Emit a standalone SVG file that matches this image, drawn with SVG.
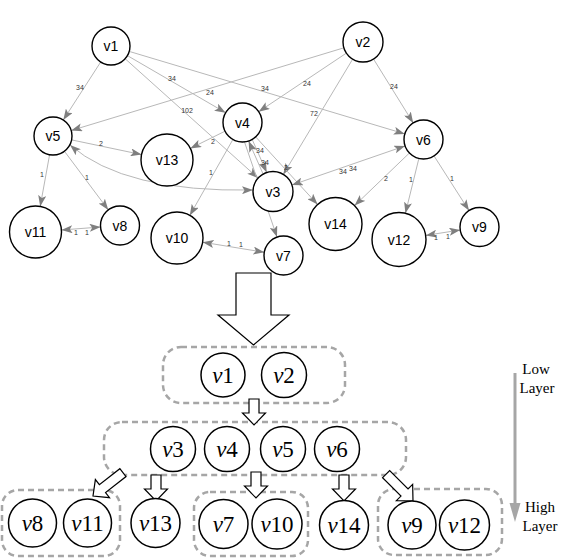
<svg xmlns="http://www.w3.org/2000/svg" width="569" height="560" viewBox="0 0 569 560">
<style>
.edge line,.edge path{stroke:#b8b8b8;stroke-width:1;fill:none}
.lbl{font-family:"Liberation Sans",Arial,sans-serif;font-size:7px;fill:#333;text-anchor:middle}
.nd circle{fill:#fff;stroke:#000;stroke-width:1.4}
.nt{font-family:"Liberation Sans",Arial,sans-serif;font-size:14px;fill:#000;text-anchor:middle}
.bn circle{fill:#fff;stroke:#000;stroke-width:1.5}
.bt{font-family:"Liberation Serif","Times New Roman",serif;font-size:23px;fill:#000;text-anchor:middle}
.grp{fill:none;stroke:#a6a6a6;stroke-width:2.5;stroke-dasharray:6 4}
.hol{fill:#fff;stroke:#000;stroke-width:1.2}
.side{font-family:"Liberation Serif","Times New Roman",serif;font-size:15px;fill:#000;text-anchor:middle}
</style>
<defs>
<marker id="ah" viewBox="0 0 11 8" refX="11" refY="4" markerWidth="11" markerHeight="8" markerUnits="userSpaceOnUse" orient="auto-start-reverse">
<path d="M0,0 L11,4 L0,8 L2.5,4 Z" fill="#7f7f7f"/>
</marker>
<polygon id="sa" points="-5,-26 5,-26 5,-12 11.5,-12 0,0 -11.5,-12 -5,-12"/>
<polygon id="da" points="-5,-38 5,-38 5,-12 11.5,-12 0,0 -11.5,-12 -5,-12"/>
</defs>
<rect width="569" height="560" fill="#fff"/>

<!-- big hollow arrow -->
<polygon class="hol" points="236,273 271,273 271,315 289,315 253.5,345 218,315 236,315"/>

<g id="edges" class="edge">
<line x1="100.7" y1="62" x2="63.3" y2="120" marker-end="url(#ah)"/>
<line x1="127.4" y1="55.6" x2="225.6" y2="112.7" marker-end="url(#ah)"/>
<line x1="125.1" y1="58.7" x2="258.1" y2="178.1" marker-end="url(#ah)"/>
<line x1="129.2" y1="51.4" x2="404.8" y2="133.9" marker-end="url(#ah)"/>
<line x1="343.9" y1="47.8" x2="71.2" y2="130.5" marker-end="url(#ah)"/>
<line x1="346.4" y1="53.1" x2="258.7" y2="111.7" marker-end="url(#ah)"/>
<line x1="352.7" y1="59.1" x2="283.3" y2="174.4" marker-end="url(#ah)"/>
<line x1="373.5" y1="59" x2="413.2" y2="122.9" marker-end="url(#ah)"/>
<line x1="225" y1="131.2" x2="190.3" y2="148.4" marker-end="url(#ah)"/>
<line x1="252.2" y1="139.5" x2="266.7" y2="172.4" marker-end="url(#ah)"/>
<line x1="263.1" y1="174" x2="248.6" y2="141.1" marker-end="url(#ah)"/>
<line x1="232.9" y1="139.5" x2="189.8" y2="215.4" marker-end="url(#ah)"/>
<line x1="244.5" y1="142" x2="277" y2="237" marker-end="url(#ah)"/>
<line x1="255.7" y1="136.9" x2="317.6" y2="204.5" marker-end="url(#ah)"/>
<line x1="71.6" y1="139.9" x2="141.6" y2="154.6" marker-end="url(#ah)"/>
<path d="M70,145 Q124.5,192.5 253,190" marker-start="url(#ah)" marker-end="url(#ah)"/>
<line x1="49.6" y1="154.7" x2="40.2" y2="206.4" marker-end="url(#ah)"/>
<line x1="64.4" y1="151.2" x2="108.3" y2="209.9" marker-end="url(#ah)"/>
<line x1="61.4" y1="230" x2="100.6" y2="227" marker-start="url(#ah)" marker-end="url(#ah)"/>
<line x1="202.7" y1="242.2" x2="264.3" y2="252.3" marker-start="url(#ah)" marker-end="url(#ah)"/>
<line x1="405.1" y1="145.9" x2="291.9" y2="185" marker-start="url(#ah)" marker-end="url(#ah)"/>
<line x1="409.4" y1="153" x2="354.6" y2="205.6" marker-end="url(#ah)"/>
<line x1="418.9" y1="158.4" x2="405.4" y2="213.3" marker-end="url(#ah)"/>
<line x1="434" y1="155.9" x2="469" y2="210.6" marker-end="url(#ah)"/>
<line x1="425.7" y1="235.4" x2="460.2" y2="230" marker-start="url(#ah)" marker-end="url(#ah)"/>
</g>

<g id="edge-labels">
<text class="lbl" x="80" y="89.5">34</text>
<text class="lbl" x="172" y="80.5">34</text>
<text class="lbl" x="187" y="112.5">102</text>
<text class="lbl" x="265" y="90.5">34</text>
<text class="lbl" x="210" y="94.5">24</text>
<text class="lbl" x="307" y="85.5">24</text>
<text class="lbl" x="314" y="115.5">72</text>
<text class="lbl" x="394" y="88.5">24</text>
<text class="lbl" x="213" y="143.5">2</text>
<text class="lbl" x="260" y="153">34</text>
<text class="lbl" x="265" y="165">34</text>
<text class="lbl" x="211" y="174.5">1</text>
<text class="lbl" x="286" y="169.5">2</text>
<text class="lbl" x="101" y="145.5">2</text>
<text class="lbl" x="42" y="176.5">1</text>
<text class="lbl" x="87" y="179.5">1</text>
<text class="lbl" x="76" y="234.5">1</text>
<text class="lbl" x="87" y="234.5">1</text>
<text class="lbl" x="229" y="245.5">1</text>
<text class="lbl" x="241" y="246.5">1</text>
<text class="lbl" x="343" y="173.5">34</text>
<text class="lbl" x="353" y="170.5">34</text>
<text class="lbl" x="386" y="180.5">2</text>
<text class="lbl" x="411" y="181.5">1</text>
<text class="lbl" x="452" y="180.5">1</text>
<text class="lbl" x="436" y="239.5">1</text>
<text class="lbl" x="448" y="238.5">1</text>
</g>

<g id="n-v1" class="nd"><circle cx="111" cy="46" r="19"/><text class="nt" x="111" y="51">v1</text></g>
<g id="n-v2" class="nd"><circle cx="363" cy="42" r="20"/><text class="nt" x="363" y="47">v2</text></g>
<g id="n-v5" class="nd"><circle cx="53" cy="136" r="19"/><text class="nt" x="53" y="141">v5</text></g>
<g id="n-v13" class="nd"><circle cx="167" cy="160" r="26"/><text class="nt" x="167" y="165">v13</text></g>
<g id="n-v4" class="nd"><circle cx="242.5" cy="122.5" r="19.5"/><text class="nt" x="242.5" y="127.5">v4</text></g>
<g id="n-v3" class="nd"><circle cx="273" cy="191.5" r="20"/><text class="nt" x="273" y="196.5">v3</text></g>
<g id="n-v6" class="nd"><circle cx="423.5" cy="139.5" r="19.5"/><text class="nt" x="423.5" y="144.5">v6</text></g>
<g id="n-v11" class="nd"><circle cx="35.5" cy="232" r="26"/><text class="nt" x="35.5" y="237">v11</text></g>
<g id="n-v8" class="nd"><circle cx="120" cy="225.5" r="19.5"/><text class="nt" x="120" y="230.5">v8</text></g>
<g id="n-v10" class="nd"><circle cx="177" cy="238" r="26"/><text class="nt" x="177" y="243">v10</text></g>
<g id="n-v7" class="nd"><circle cx="283.5" cy="255.5" r="19.5"/><text class="nt" x="283.5" y="260.5">v7</text></g>
<g id="n-v14" class="nd"><circle cx="335.5" cy="224" r="26.5"/><text class="nt" x="335.5" y="229">v14</text></g>
<g id="n-v12" class="nd"><circle cx="399" cy="239.5" r="27"/><text class="nt" x="399" y="244.5">v12</text></g>
<g id="n-v9" class="nd"><circle cx="479.5" cy="227" r="19.5"/><text class="nt" x="479.5" y="232">v9</text></g>

<!-- layered view -->
<g id="layer-groups">
<rect class="grp" x="163" y="347" width="182" height="56" rx="18"/>
<rect class="grp" x="104" y="422" width="302" height="53" rx="18"/>
<rect class="grp" x="2" y="490" width="118" height="66" rx="16"/>
<rect class="grp" x="194" y="492" width="114" height="64" rx="16"/>
<rect class="grp" x="378" y="489" width="124" height="66" rx="16"/>
</g>

<g id="layer-arrows" class="hol">
<use href="#sa" transform="translate(254,425)"/>
<use href="#sa" transform="translate(156,501)"/>
<use href="#sa" transform="translate(256,498)"/>
<use href="#sa" transform="translate(344,501)"/>
<use href="#da" transform="translate(93,496) rotate(52)"/>
<use href="#da" transform="translate(413,501) rotate(-45)"/>
</g>

<g id="b-v1" class="bn"><circle cx="223" cy="375" r="22"/><text class="bt" x="223" y="383"><tspan font-style="italic">v</tspan>1</text></g>
<g id="b-v2" class="bn"><circle cx="284" cy="375" r="22.5"/><text class="bt" x="284" y="383"><tspan font-style="italic">v</tspan>2</text></g>
<g id="b-v3" class="bn"><circle cx="173" cy="449" r="22.5"/><text class="bt" x="173" y="457"><tspan font-style="italic">v</tspan>3</text></g>
<g id="b-v4" class="bn"><circle cx="227" cy="449" r="22.5"/><text class="bt" x="227" y="457"><tspan font-style="italic">v</tspan>4</text></g>
<g id="b-v5" class="bn"><circle cx="283" cy="449" r="22.5"/><text class="bt" x="283" y="457"><tspan font-style="italic">v</tspan>5</text></g>
<g id="b-v6" class="bn"><circle cx="337" cy="449" r="22.5"/><text class="bt" x="337" y="457"><tspan font-style="italic">v</tspan>6</text></g>
<g id="b-v8" class="bn"><circle cx="32.5" cy="523" r="24"/><text class="bt" x="32.5" y="531"><tspan font-style="italic">v</tspan>8</text></g>
<g id="b-v11" class="bn"><circle cx="87.5" cy="523" r="24"/><text class="bt" x="87.5" y="531"><tspan font-style="italic">v</tspan>11</text></g>
<g id="b-v13" class="bn"><circle cx="155.5" cy="523" r="24.5"/><text class="bt" x="155.5" y="531"><tspan font-style="italic">v</tspan>13</text></g>
<g id="b-v7" class="bn"><circle cx="223.5" cy="524" r="24.5"/><text class="bt" x="223.5" y="532"><tspan font-style="italic">v</tspan>7</text></g>
<g id="b-v10" class="bn"><circle cx="277" cy="524" r="25"/><text class="bt" x="277" y="532"><tspan font-style="italic">v</tspan>10</text></g>
<g id="b-v14" class="bn"><circle cx="344" cy="525" r="24.5"/><text class="bt" x="344" y="533"><tspan font-style="italic">v</tspan>14</text></g>
<g id="b-v9" class="bn"><circle cx="412" cy="525" r="24"/><text class="bt" x="412" y="533"><tspan font-style="italic">v</tspan>9</text></g>
<g id="b-v12" class="bn"><circle cx="464.5" cy="525" r="25"/><text class="bt" x="464.5" y="533"><tspan font-style="italic">v</tspan>12</text></g>

<g id="layer-axis">
<line x1="515" y1="373" x2="515" y2="505" stroke="#a6a6a6" stroke-width="3"/>
<polygon points="509.5,503 520.5,503 515,522" fill="#a6a6a6"/>
<text class="side" x="536" y="374">Low</text>
<text class="side" x="537" y="393">Layer</text>
<text class="side" x="540" y="512">High</text>
<text class="side" x="540" y="531">Layer</text>
</g>
</svg>
